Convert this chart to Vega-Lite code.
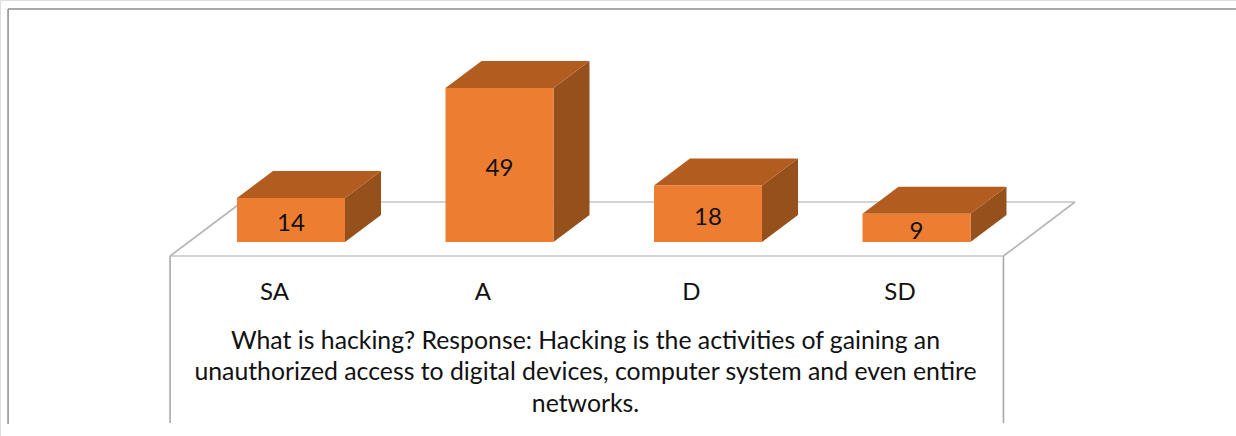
{
  "$schema": "https://vega.github.io/schema/vega-lite/v6.json",
  "width": 1236,
  "height": 436,
  "padding": 0,
  "autosize": "none",
  "background": "white",
  "datasets": {
    "responses": [
      {"category": "SA", "value": 14},
      {"category": "A", "value": 49},
      {"category": "D", "value": 18},
      {"category": "SD", "value": 9}
    ],
    "furniture": [
      {"part": "frame", "px": -1.357, "px2": 4.532, "py": 74.1, "py2": 74.1},
      {"part": "frame", "px": -1.357, "px2": -1.357, "py": 74.1, "py2": -57.9},
      {"part": "wall", "px": -0.58, "px2": -0.58, "py": -4.45, "py2": -57.6},
      {"part": "wall", "px": 3.417, "px2": 3.417, "py": -4.45, "py2": -57.6},
      {"part": "edge", "px": -0.58, "px2": 3.417, "py": -4.45, "py2": -4.45},
      {"part": "edge", "px": -0.235, "px2": 3.76, "py": 12.73, "py2": 12.73},
      {"part": "diagonal", "px": -0.58, "px2": -0.235, "py": -4.45, "py2": 12.73},
      {"part": "diagonal", "px": 3.417, "px2": 3.76, "py": -4.45, "py2": 12.73}
    ]
  },
  "data": {"name": "responses"},
  "transform": [
    {"calculate": "indexof(['SA','A','D','SD'], datum.category)", "as": "pos"}
  ],
  "encoding": {
    "x": {
      "field": "px",
      "type": "quantitative",
      "scale": {"domain": [-1.3957, 4.5324], "nice": false, "zero": false},
      "axis": {
        "values": [0, 1, 2, 3],
        "labelExpr": "['SA','A','D','SD'][datum.value]",
        "offset": -178,
        "grid": false,
        "ticks": false,
        "domain": false,
        "labelFont": "Lato",
        "labelFontSize": 24,
        "labelColor": "#111111",
        "labelPadding": 34,
        "labelBaseline": "middle",
        "labelOffset": -17,
        "title": [
          "What is hacking? Response:  Hacking is the activities of gaining an",
          "unauthorized access to digital devices, computer system and even entire",
          "networks."
        ],
        "titleFont": "Lato",
        "titleFontSize": 24.8,
        "titleFontWeight": "normal",
        "titleColor": "#111111",
        "titleLineHeight": 31.5,
        "titleAlign": "center",
        "titleBaseline": "middle",
        "titleX": 585,
        "titleY": 83
      }
    },
    "y": {
      "field": "py",
      "type": "quantitative",
      "scale": {"domain": [-61.72, 77], "nice": false, "zero": false},
      "axis": null
    }
  },
  "layer": [
    {
      "data": {"name": "furniture"},
      "transform": [],
      "mark": {"type": "rule"},
      "encoding": {
        "x2": {"field": "px2"},
        "y2": {"field": "py2"},
        "color": {
          "field": "part",
          "type": "nominal",
          "scale": {"domain": ["frame", "wall", "edge", "diagonal"], "range": ["#8c8c8c", "#a8a8a8", "#c4c4c4", "#b8b8b8"]},
          "legend": null
        },
        "strokeWidth": {
          "field": "part",
          "type": "nominal",
          "scale": {"domain": ["frame", "wall", "edge", "diagonal"], "range": [1.5, 1.8, 3, 1.8]},
          "legend": null
        }
      }
    },
    {
      "transform": [
        {"calculate": "datum.pos - 0.259", "as": "x0"},
        {"calculate": "[0, 1]", "as": "knot"},
        {"flatten": ["knot"]},
        {"calculate": "datum.x0 + 0.518 + datum.knot * 0.1727", "as": "px"},
        {"calculate": "datum.knot * 8.59", "as": "py2"},
        {"calculate": "datum.value + datum.knot * 8.59", "as": "py"}
      ],
      "mark": {"type": "area", "color": "#96501C", "opacity": 1},
      "encoding": {
        "y2": {"field": "py2"},
        "detail": {"field": "category"}
      }
    },
    {
      "transform": [
        {"calculate": "datum.pos - 0.259", "as": "x0"},
        {"calculate": "[0, 1, 2, 3]", "as": "knot"},
        {"flatten": ["knot"]},
        {"calculate": "datum.x0 + [0, 0.1727, 0.518, 0.6907][datum.knot]", "as": "px"},
        {"calculate": "datum.value + [0, 0, 0, 8.59][datum.knot]", "as": "py2"},
        {"calculate": "datum.value + [0, 8.59, 8.59, 8.59][datum.knot]", "as": "py"}
      ],
      "mark": {"type": "area", "color": "#B35C20", "opacity": 1},
      "encoding": {
        "y2": {"field": "py2"},
        "detail": {"field": "category"}
      }
    },
    {
      "transform": [
        {"calculate": "datum.pos - 0.259", "as": "px"},
        {"calculate": "datum.pos + 0.259", "as": "px2"},
        {"calculate": "datum.value", "as": "py"},
        {"calculate": "0", "as": "py2"}
      ],
      "mark": {"type": "rect", "color": "#ED7D31"},
      "encoding": {
        "x2": {"field": "px2"},
        "y2": {"field": "py2"}
      }
    },
    {
      "transform": [
        {"calculate": "datum.pos", "as": "px"},
        {"calculate": "datum.value / 2", "as": "py"}
      ],
      "mark": {"type": "text", "font": "Lato", "fontSize": 24, "color": "#111111", "baseline": "middle", "dy": 4},
      "encoding": {
        "text": {"field": "value", "type": "quantitative"}
      }
    }
  ]
}
